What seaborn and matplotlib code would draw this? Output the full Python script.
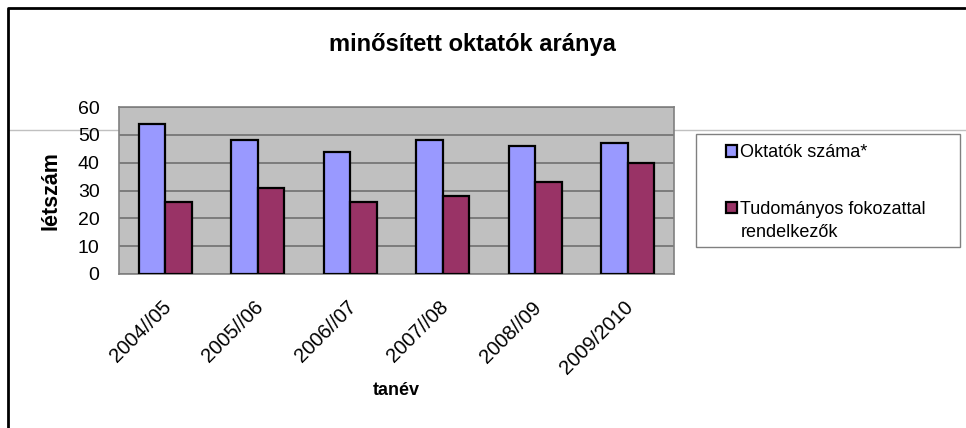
import matplotlib
matplotlib.use("Agg")
import matplotlib.pyplot as plt
import matplotlib.transforms as mtransforms
from matplotlib.lines import Line2D
from matplotlib.patches import Rectangle
import seaborn as sns
import pandas as pd
import numpy as np

# data
years = ["2004//05", "2005//06", "2006//07", "2007//08", "2008//09", "2009/2010"]
oktatok = [54, 48, 44, 48, 46, 47]
fokozattal = [26, 31, 26, 28, 33, 40]
series_names = ["Oktatók száma*", "Tudományos fokozattal"]
label_cont = "rendelkezők"
colors = ["#9999FF", "#993366"]


def main():
    sns.set_style("white")
    plt.rcParams['font.family'] = ['Liberation Sans', 'DejaVu Sans']
    plt.rcParams['text.color'] = 'black'
    plt.rcParams['axes.labelcolor'] = 'black'

    df = pd.DataFrame({
        'tanév': years * 2,
        'létszám': oktatok + fokozattal,
        'sorozat': [series_names[0]] * len(years) + [series_names[1]] * len(years),
    })

    fig = plt.figure(figsize=(9.66, 4.28), dpi=100)
    ax = fig.add_axes([119 / 966, 1 - 274 / 428, 555 / 966, 167 / 428])
    ax.set_zorder(1)

    sns.barplot(data=df, x='tanév', y='létszám', hue='sorozat', palette=colors,
                width=0.577, edgecolor='black', linewidth=1.6, saturation=1,
                ax=ax, zorder=3)

    handles, labels = ax.get_legend_handles_labels()
    ax.get_legend().remove()

    ax.set_facecolor('#C0C0C0')
    ax.set_xlim(-0.5, len(years) - 0.5)
    ax.set_ylim(0, 60)
    ax.set_yticks(range(0, 61, 10))
    ax.yaxis.grid(True, color='#707070', linewidth=1.2, zorder=0)
    ax.set_axisbelow(True)
    for s in ax.spines.values():
        s.set_color('#808080')
        s.set_linewidth(1.2)

    ax.tick_params(axis='y', direction='out', length=5, color='#808080',
                   labelcolor='black', labelsize=14, pad=9)
    ax.tick_params(axis='x', which='major', length=0, labelcolor='black',
                   labelsize=14.5, pad=17)
    ax.set_xticks(np.arange(-0.5, len(years), 1), minor=True)
    ax.tick_params(axis='x', which='minor', direction='out', length=5, color='#808080')
    shift = mtransforms.ScaledTranslation(-4 / 100, 0, fig.dpi_scale_trans)
    for lbl in ax.get_xticklabels():
        lbl.set_rotation(45)
        lbl.set_ha('right')
        lbl.set_rotation_mode('anchor')
        lbl.set_transform(lbl.get_transform() + shift)

    ax.set_xlabel('tanév', fontsize=13, fontweight='bold', labelpad=3)
    ax.set_ylabel('létszám', fontsize=15.5, fontweight='bold', labelpad=12)

    fig.text(472 / 966, 1 - 44 / 428, 'minősített oktatók aránya', ha='center',
             va='center', fontsize=17, fontweight='bold')

    # stray horizontal line from the original image
    fig.add_artist(Line2D([9 / 966, 1], [1 - 130 / 428] * 2, color='#C0C0C0',
                          linewidth=1, zorder=0))
    # chart border (top and left)
    fig.add_artist(Line2D([8 / 966, 8 / 966, 965 / 966], [0, 1 - 8 / 428, 1 - 8 / 428],
                          color='black', linewidth=2))

    # legend box
    fig.add_artist(Rectangle((696 / 966, 1 - 247 / 428), 264 / 966, 113 / 428,
                             transform=fig.transFigure, facecolor='white',
                             edgecolor='#808080', linewidth=1, zorder=2))
    leg = fig.legend(handles, labels, loc='center left',
                     bbox_to_anchor=(717 / 966, 1 - 181 / 428), frameon=False,
                     fontsize=13, handlelength=0.6, handleheight=0.6,
                     handletextpad=0.2, labelspacing=2.2, borderpad=0)
    fig.canvas.draw()
    bb = leg.get_texts()[1].get_window_extent()
    fig.text(bb.x0 / 966, (bb.y0 - 23) / 428, label_cont, fontsize=13,
             ha='left', va='bottom')

    fig.savefig('out.png', dpi=100)


if __name__ == '__main__':
    main()
